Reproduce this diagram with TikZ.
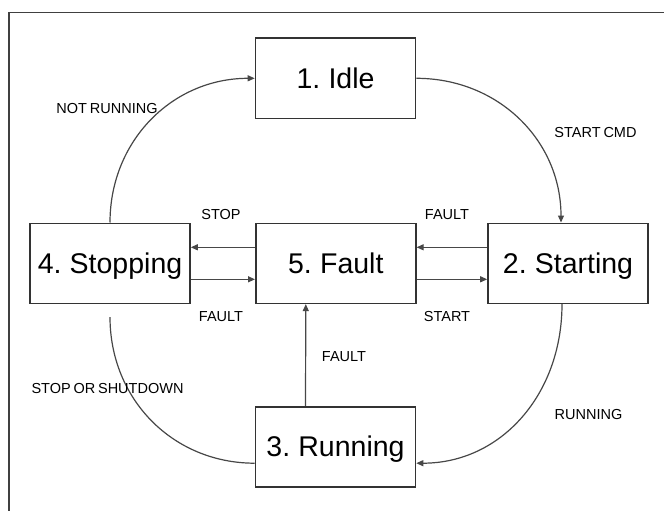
\documentclass[tikz,border=0pt]{standalone}
\usepackage{fontspec}
\setmainfont{Liberation Sans}[WordSpace=0.7]
\usetikzlibrary{arrows.meta}
\begin{document}
\begin{tikzpicture}[x=1pt,y=-1pt,
  state/.style={draw=black!80,line width=1.6pt,minimum width=160pt,minimum height=80pt,
    inner sep=0pt,text height=20pt,text depth=0pt,font=\fontsize{28.5}{30}\selectfont},
  lbl/.style={font=\fontsize{14.5}{16}\selectfont,inner sep=0pt},
  link/.style={draw=black!72,line width=1.2pt},
  arr/.style={link,-{Triangle[length=7pt,width=6pt]}}]
\useasboundingbox (0,0) rectangle (664,511);
% frame (top and left edges)
\draw[black!75,line width=1.8pt] (9,511) -- (9,12.5) -- (664,12.5);

% states
\node[state] (idle)  at (335.5,78.3)  {1. Idle};
\node[state] (stop)  at (110,263.3)   {4. Stopping};
\node[state] (fault) at (335.8,263.3) {5. Fault};
\node[state] (start) at (568,263.3)   {2. Starting};
\node[state] (run)   at (335.5,446.7) {3. Running};

% outer cycle
\draw[arr] (stop.north) .. controls +(0,-82) and +(-82,0) .. (idle.west);
\draw[arr] (idle.east) .. controls +(82,0) and +(0,-82) .. ([xshift=-7pt]start.north);
\draw[arr] ([xshift=-6pt]start.south) .. controls +(0,90) and +(85,0) .. ([yshift=-16.5pt]run.east);
\draw[link] ([yshift=-13pt]stop.south) .. controls +(0,82) and +(-82,0) .. ([yshift=-16.5pt]run.west);

% fault transitions
\draw[arr] ([yshift=16pt]fault.west) -- ([yshift=16pt]stop.east);
\draw[arr] ([yshift=-16pt]stop.east) -- ([yshift=-16pt]fault.west);
\draw[arr] ([yshift=16pt]start.west) -- ([yshift=16pt]fault.east);
\draw[arr] ([yshift=-16pt]fault.east) -- ([yshift=-16pt]start.west);
\draw[arr] ([xshift=-30pt]run.north) -- ([xshift=-30pt]fault.south);

% labels
\node[lbl] (l1) at (107,109)   {NOT RUNNING};
\node[lbl] (l2) at (595.5,132.7) {START CMD};
\node[lbl] (l3) at (221,214.3) {STOP};
\node[lbl] (l4) at (447,214.3) {FAULT};
\node[lbl] (l5) at (221,316.7) {FAULT};
\node[lbl] (l6) at (447,316.7) {START};
\node[lbl] (l7) at (344,356.7) {FAULT};
\node[lbl] (l8) at (107.5,389) {STOP OR SHUTDOWN};
\node[lbl] (l9) at (588.5,415) {RUNNING};
\end{tikzpicture}
\end{document}
